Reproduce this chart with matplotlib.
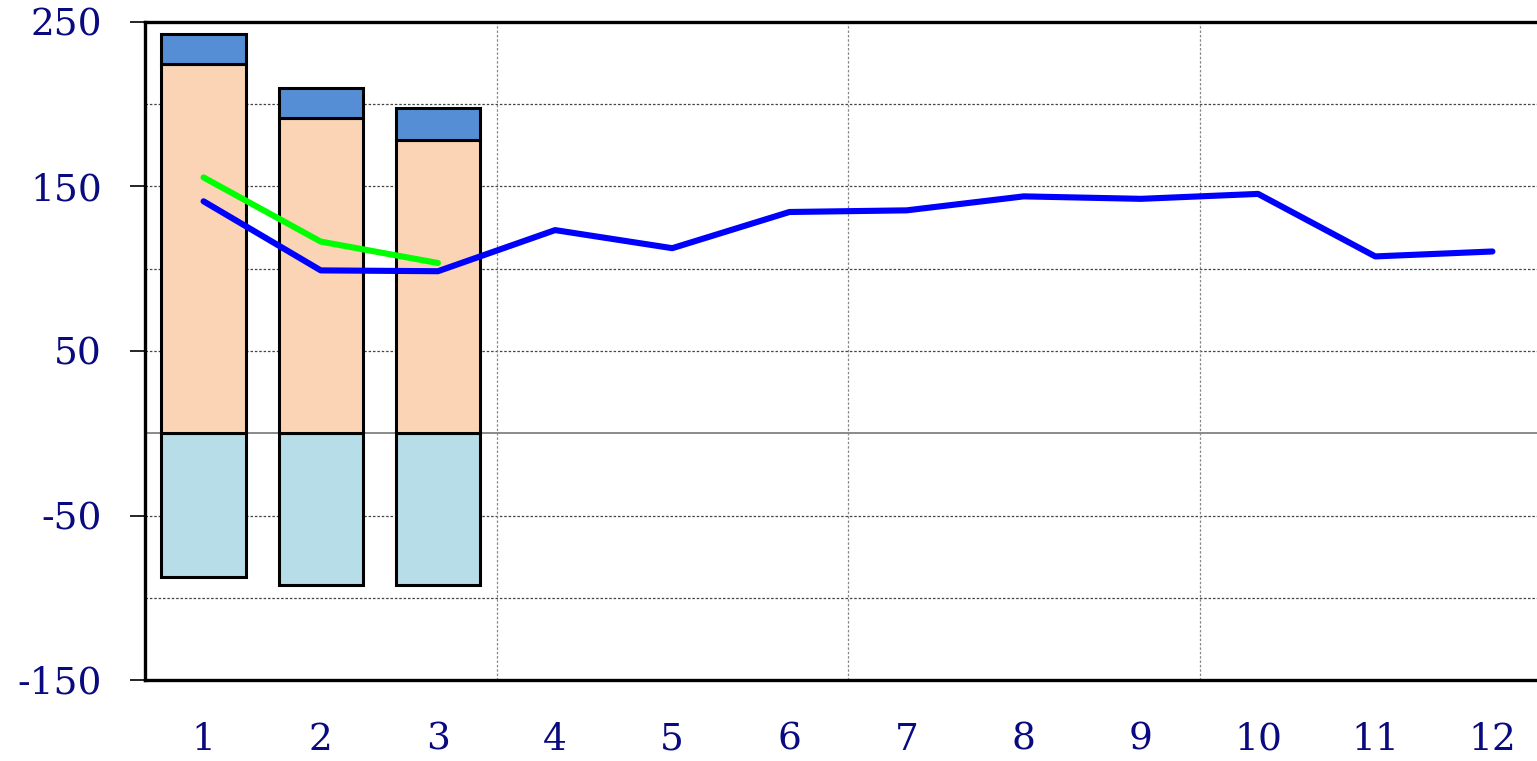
import matplotlib.pyplot as plt
import numpy as np

plt.rcParams["axes.unicode_minus"] = False

months = list(range(1, 13))

# stacked bars (first three periods)
bar_x = [1, 2, 3]
neg_part = [-87.5, -92.5, -92.5]
mid_part = [224.5, 191.5, 178.0]
top_part = [18.5, 18.5, 19.5]

blue_line = [141, 99, 98.5, 123.5, 112.5, 134.5, 135.5, 144, 142.5, 145.5, 107.5, 110.5]
green_line = [155.5, 116.5, 103.5]

NAVY = "#0a0a80"

fig = plt.figure(figsize=(15.37, 7.61), dpi=100)
ax = fig.add_axes([145 / 1537, 81 / 761, (1551 - 145) / 1537, 658 / 761])

edge = dict(edgecolor="black", linewidth=2.2, zorder=3)
w = 0.72
ax.bar(bar_x, neg_part, width=w, color="#b7dde8", **edge)
ax.bar(bar_x, mid_part, width=w, color="#fad4b4", **edge)
ax.bar(bar_x, top_part, width=w, bottom=mid_part, color="#558ed5", **edge)

ax.plot(months, blue_line, color="#0000ff", lw=4.4, zorder=4, solid_capstyle="round")
ax.plot(bar_x, green_line, color="#00ff00", lw=4.4, zorder=4, solid_capstyle="round")

ax.set_xlim(0.5, 12.5)
ax.set_ylim(-150, 250)

# grid
for y in [-100, -50, 50, 100, 150, 200]:
    ax.axhline(y, color="#444444", lw=0.9, ls=(0, (2, 1.5)), zorder=1)
ax.axhline(0, color="#777777", lw=1.2, zorder=1)
for x in [3.5, 6.5, 9.5]:
    ax.axvline(x, color="#888888", lw=0.9, ls=(0, (2, 1.5)), zorder=1)

ax.set_yticks([-150, -50, 50, 150, 250])
ax.set_xticks(months)
ax.tick_params(axis="y", length=11, width=1.2, pad=20, labelsize=27, labelcolor=NAVY)
ax.tick_params(axis="x", length=0, pad=30, labelsize=27, labelcolor=NAVY)
for lab in ax.get_xticklabels() + ax.get_yticklabels():
    lab.set_family("DejaVu Serif")

for side in ["left", "bottom", "top"]:
    ax.spines[side].set_linewidth(2.4)
ax.spines["right"].set_visible(False)

fig.savefig("out.png", dpi=100)
